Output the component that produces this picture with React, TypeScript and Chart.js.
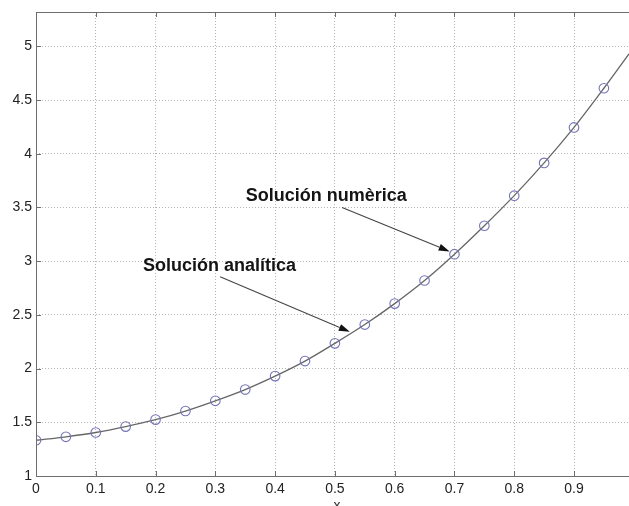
import React, { useEffect, useRef } from "react";
import { Chart, registerables } from "chart.js";

Chart.register(...registerables);

// Numeric solution (markers)
const xNumeric = [0, 0.05, 0.1, 0.15, 0.2, 0.25, 0.3, 0.35, 0.4, 0.45, 0.5, 0.55, 0.6, 0.65, 0.7, 0.75, 0.8, 0.85, 0.9, 0.95];
const yNumeric = [1.333, 1.365, 1.405, 1.46, 1.525, 1.605, 1.7, 1.805, 1.93, 2.07, 2.235, 2.41, 2.605, 2.82, 3.065, 3.33, 3.61, 3.915, 4.245, 4.61];

// Analytic solution (continuous line)
const xAnalytic = [0, 0.05, 0.1, 0.15, 0.2, 0.25, 0.3, 0.35, 0.4, 0.45, 0.5, 0.55, 0.6, 0.65, 0.7, 0.75, 0.8, 0.85, 0.9, 0.95, 0.992];
const yAnalytic = [1.333, 1.365, 1.405, 1.46, 1.525, 1.605, 1.7, 1.805, 1.93, 2.07, 2.235, 2.41, 2.605, 2.82, 3.065, 3.33, 3.61, 3.915, 4.245, 4.61, 4.93];

// Axis ranges
const xRange = [0, 0.992];
const yRange = [1, 5.32];
const xStep = 0.1;
const yStep = 0.5;
const xAxisTitle = "x";

// Annotations (data coordinates)
const annotationLabels = ["Solución numèrica", "Solución analítica"];
const labelAnchors = [[0.351, 3.61], [0.179, 2.957]];
const arrowStarts = [[0.512, 3.5], [0.308, 2.855]];
const arrowEnds = [[0.692, 3.09], [0.525, 2.342]];

const FONT = "'Liberation Sans', Arial, Helvetica, sans-serif";
const AXIS_COLOR = "#6e6e6e";

const boxPlugin = {
  id: "boxPlugin",
  afterDatasetsDraw(chart: any) {
    const { ctx, chartArea, scales } = chart;
    const { left, right, top, bottom } = chartArea;
    ctx.save();
    ctx.strokeStyle = AXIS_COLOR;
    ctx.lineWidth = 1;
    ctx.setLineDash([]);
    ctx.beginPath();
    ctx.moveTo(left + 0.5, top + 0.5);
    ctx.lineTo(right + 2, top + 0.5);
    ctx.moveTo(left + 0.5, top);
    ctx.lineTo(left + 0.5, bottom + 0.5);
    ctx.lineTo(right + 2, bottom + 0.5);
    ctx.stroke();
    // inward tick marks
    ctx.beginPath();
    scales.x.ticks.forEach((t: any) => {
      const px = Math.round(scales.x.getPixelForValue(t.value)) + 0.5;
      ctx.moveTo(px, bottom);
      ctx.lineTo(px, bottom - 5);
      ctx.moveTo(px, top);
      ctx.lineTo(px, top + 5);
    });
    scales.y.ticks.forEach((t: any) => {
      const py = Math.round(scales.y.getPixelForValue(t.value)) + 0.5;
      ctx.moveTo(left, py);
      ctx.lineTo(left + 5, py);
    });
    ctx.stroke();

    // annotations
    ctx.font = `bold 18px ${FONT}`;
    ctx.textBaseline = "middle";
    ctx.textAlign = "left";
    annotationLabels.forEach((label, i) => {
      ctx.fillStyle = "#141414";
      const tx = scales.x.getPixelForValue(labelAnchors[i][0]);
      const ty = scales.y.getPixelForValue(labelAnchors[i][1]);
      ctx.fillText(label, tx, ty);
      const x0 = scales.x.getPixelForValue(arrowStarts[i][0]);
      const y0 = scales.y.getPixelForValue(arrowStarts[i][1]);
      const x1 = scales.x.getPixelForValue(arrowEnds[i][0]);
      const y1 = scales.y.getPixelForValue(arrowEnds[i][1]);
      const ang = Math.atan2(y1 - y0, x1 - x0);
      const headLen = 11;
      const headW = 3.5;
      ctx.strokeStyle = "#444";
      ctx.lineWidth = 1.1;
      ctx.beginPath();
      ctx.moveTo(x0, y0);
      ctx.lineTo(x1 - headLen * Math.cos(ang), y1 - headLen * Math.sin(ang));
      ctx.stroke();
      ctx.fillStyle = "#111";
      ctx.beginPath();
      ctx.moveTo(x1, y1);
      ctx.lineTo(
        x1 - headLen * Math.cos(ang) + headW * Math.sin(ang),
        y1 - headLen * Math.sin(ang) - headW * Math.cos(ang)
      );
      ctx.lineTo(
        x1 - headLen * Math.cos(ang) - headW * Math.sin(ang),
        y1 - headLen * Math.sin(ang) + headW * Math.cos(ang)
      );
      ctx.closePath();
      ctx.fill();
    });

    // x axis title (cut at the bottom)
    ctx.fillStyle = "#333";
    ctx.font = `14px ${FONT}`;
    ctx.textAlign = "center";
    ctx.textBaseline = "alphabetic";
    ctx.fillText(xAxisTitle, scales.x.getPixelForValue(0.5) + 2, 510);
    ctx.restore();
  },
};

export default function App() {
  const canvasRef = useRef<HTMLCanvasElement | null>(null);

  useEffect(() => {
    document.body.style.margin = "0";
    const canvas = canvasRef.current;
    if (!canvas) return;
    const chart = new Chart(canvas, {
      type: "scatter",
      data: {
        datasets: [
          {
            label: "Solución analítica",
            data: xAnalytic.map((x, i) => ({ x, y: yAnalytic[i] })),
            showLine: true,
            borderColor: "#666666",
            borderWidth: 1.3,
            pointRadius: 0,
            cubicInterpolationMode: "monotone",
            fill: false,
            order: 2,
          },
          {
            label: "Solución numèrica",
            data: xNumeric.map((x, i) => ({ x, y: yNumeric[i] })),
            showLine: false,
            pointStyle: "circle",
            pointRadius: 4.8,
            pointBorderWidth: 1.1,
            pointBorderColor: "#7474b8",
            pointBackgroundColor: "rgba(0,0,0,0)",
            order: 1,
          },
        ],
      },
      options: {
        animation: false,
        responsive: true,
        maintainAspectRatio: false,
        layout: { autoPadding: false, padding: { top: 12, right: 0, left: 0, bottom: 0 } },
        plugins: {
          legend: { display: false },
          tooltip: { enabled: false },
        },
        scales: {
          x: {
            type: "linear",
            min: xRange[0],
            max: xRange[1],
            afterFit: (s: any) => {
              s.height = 30;
              s.paddingRight = 0;
              s.paddingLeft = 0;
            },
            afterBuildTicks: (s: any) => {
              s.ticks = s.ticks.filter(
                (t: any) => Math.abs(t.value / xStep - Math.round(t.value / xStep)) < 1e-6
              );
            },
            ticks: {
              stepSize: xStep,
              includeBounds: false,
              color: "#222",
              font: { family: FONT, size: 14 },
              padding: 5,
              maxRotation: 0,
              autoSkip: false,
              callback: (v: any) => String(Math.round(Number(v) * 10) / 10),
            },
            grid: {
              color: "#b4b4b4",
              lineWidth: 1,
              drawTicks: false,
              tickLength: 0,
            },
            border: { display: false, dash: [1, 2] },
          },
          y: {
            type: "linear",
            min: yRange[0],
            max: yRange[1],
            afterFit: (s: any) => {
              s.width = 36;
              s.paddingTop = 0;
              s.paddingBottom = 0;
            },
            afterBuildTicks: (s: any) => {
              s.ticks = s.ticks.filter(
                (t: any) => Math.abs(t.value / yStep - Math.round(t.value / yStep)) < 1e-6
              );
            },
            ticks: {
              stepSize: yStep,
              includeBounds: false,
              color: "#222",
              font: { family: FONT, size: 14 },
              padding: 4,
              autoSkip: false,
              callback: (v: any) => String(Math.round(Number(v) * 10) / 10),
            },
            grid: {
              color: "#b4b4b4",
              lineWidth: 1,
              drawTicks: false,
              tickLength: 0,
            },
            border: { display: false, dash: [1, 2] },
          },
        },
      } as any,
      plugins: [boxPlugin],
    });
    return () => chart.destroy();
  }, []);

  return (
    <div style={{ width: 629, height: 506, position: "relative", overflow: "hidden", background: "#fff" }}>
      <canvas ref={canvasRef} />
    </div>
  );
}
